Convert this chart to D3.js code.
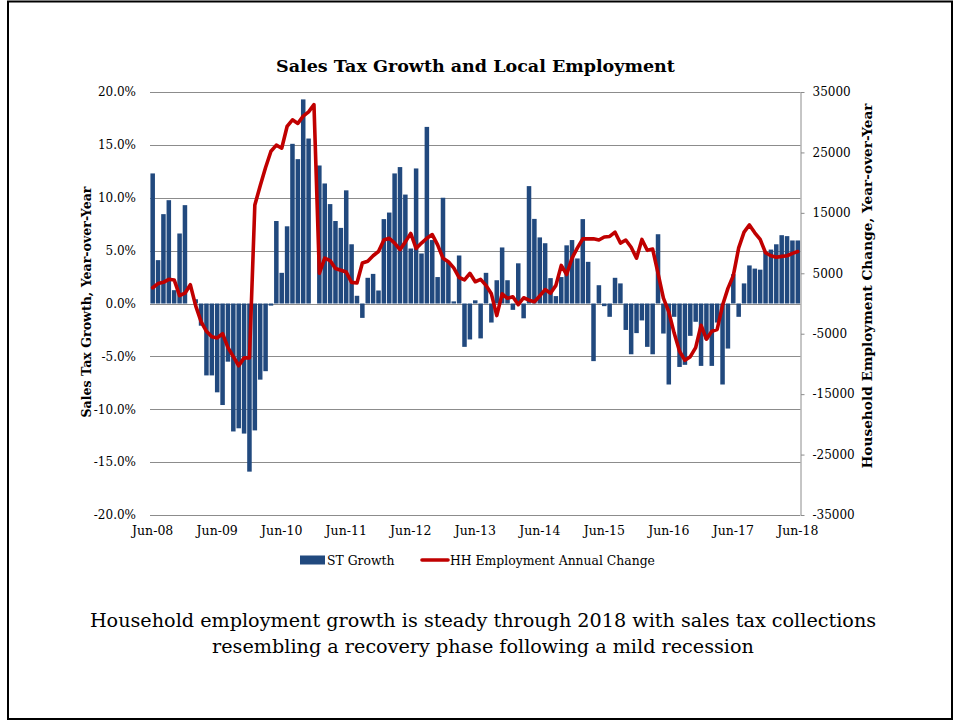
<!DOCTYPE html>
<html>
<head>
<meta charset="utf-8">
<script src="https://cdn.jsdelivr.net/npm/d3@7"></script>
<style>
  html, body { margin: 0; padding: 0; background: #fff; }
  svg { display: block; }
  text { font-family: "DejaVu Serif", "Liberation Serif", serif; fill: #000; }
</style>
</head>
<body>
<svg id="chart" width="960" height="721"></svg>
<script>
// ---- data ----
const monthNames = ["Jan","Feb","Mar","Apr","May","Jun","Jul","Aug","Sep","Oct","Nov","Dec"];
const categories = [];
for (let k = 0; k < 121; k++) {
  const m = (5 + k) % 12;
  const y = 8 + Math.floor((5 + k) / 12);
  categories.push(monthNames[m] + "-" + String(y).padStart(2, "0"));
}
const tickLabels = ["Jun-08","Jun-09","Jun-10","Jun-11","Jun-12","Jun-13","Jun-14","Jun-15","Jun-16","Jun-17","Jun-18"];

// ST Growth (percent, year-over-year)
const stGrowth = [
  12.3, 4.1, 8.45, 9.77, 1.26, 6.62, 9.3, 0.0, 0.4, -2.1,
  -6.8, -6.8, -8.4, -9.6, -5.5, -12.1, -11.8, -12.3, -15.9, -12.0,
  -7.2, -6.4, -0.2, 7.8, 2.9, 7.3, 15.1, 13.65, 19.3, 15.6,
  0.0, 13.05, 11.35, 9.4, 7.8, 7.15, 10.7, 5.6, 0.73, -1.36,
  2.43, 2.8, 1.23, 7.98, 8.6, 12.3, 12.9, 10.3, 5.2, 12.77,
  4.73, 16.7, 6.0, 2.5, 10.0, 3.94, 0.2, 4.54, -4.1, -3.4,
  0.3, -3.3, 2.9, -1.8, 2.2, 5.3, 2.2, -0.6, 3.8, -1.4,
  11.1, 8.0, 6.25, 5.7, 2.4, 0.7, 2.5, 5.5, 6.0, 4.26,
  7.98, 3.94, -5.45, 1.73, -0.25, -1.26, 2.43, 1.9, -2.5, -4.8,
  -2.8, -1.6, -4.1, -4.8, 6.55, -2.84, -7.66, -1.26, -6.0, -5.8,
  -3.06, -1.73, -5.9, -3.4, -5.9, -1.8, -7.66, -4.26, 2.77, -1.26,
  1.9, 3.6, 3.3, 3.2, 4.9, 5.1, 5.6, 6.46, 6.37, 5.96,
  5.96
];

// HH Employment Annual Change
const hhEmployment = [
  2600, 3300, 3500, 4000, 3900, 1300, 1700, 3100, -400, -3000,
  -4600, -5500, -5700, -5000, -7300, -8800, -10300, -9000, -9000, 16300,
  19500, 22500, 25200, 26200, 25700, 29300, 30400, 29800, 31000, 31700,
  32900, 5000, 7500, 7100, 5800, 5500, 5200, 3500, 3400, 6700,
  7000, 7900, 8600, 10500, 10800, 10000, 8900, 10200, 11600, 9100,
  10000, 10800, 11400, 9700, 7500, 6900, 5900, 4300, 3900, 5000,
  3600, 4000, 3000, 1600, -2000, 1600, 850, 1100, -200, 950,
  550, 300, 1250, 2300, 1700, 3000, 6300, 4800, 7500, 9200,
  10700, 10700, 10700, 10500, 11000, 11100, 11800, 10000, 10500, 9300,
  7500, 10600, 8800, 9000, 5000, 900, -1400, -4900, -7900, -9400,
  -8800, -7300, -3600, -5900, -4600, -4300, -300, 2500, 4600, 9200,
  11800, 13000, 11700, 10600, 8400, 7900, 7650, 7800, 7900, 8300,
  8600
];

const leftTicks = [-20, -15, -10, -5, 0, 5, 10, 15, 20];
const rightTicks = [-35000, -25000, -15000, -5000, 5000, 15000, 25000, 35000];

const titleText = "Sales Tax Growth and Local Employment";
const leftTitle = "Sales Tax Growth, Year-over-Year";
const rightTitle = "Household Employment Change, Year-over-Year";
const legendLabels = ["ST Growth", "HH Employment Annual Change"];
const captionLines = [
  "Household employment growth is steady through 2018 with sales tax collections",
  "resembling a recovery phase following a mild recession"
];

// ---- drawing ----
const svg = d3.select("#chart");
const plot = { left: 150, right: 800.5, top: 92, bottom: 515 };
const barColor = "#21497E";
const lineColor = "#C00000";
const gridColor = "#8C8C8C";
const hyphen = s => s.replace(/\u2212/g, "-");

// slide frame
svg.append("rect").attr("x", 8).attr("y", 1.5).attr("width", 944).attr("height", 717.5)
  .attr("fill", "none").attr("stroke", "#000").attr("stroke-width", 2);

const x = d3.scaleBand().domain(categories).range([plot.left, plot.right]).paddingInner(0.16).paddingOuter(0.08);
const xc = d3.scaleBand().domain(categories).range([plot.left, plot.right]);
const yL = d3.scaleLinear().domain([-20, 20]).range([plot.bottom, plot.top]);
const yR = d3.scaleLinear().domain([-35000, 35000]).range([plot.bottom, plot.top]);

// gridlines
svg.append("g").selectAll("line").data(leftTicks).join("line")
  .attr("x1", plot.left).attr("x2", plot.right)
  .attr("y1", d => Math.round(yL(d)) + 0.5).attr("y2", d => Math.round(yL(d)) + 0.5)
  .attr("stroke", gridColor).attr("stroke-width", 1);

// left axis labels
const leftAxis = d3.axisLeft(yL).tickValues(leftTicks).tickSize(0).tickPadding(14)
  .tickFormat(d => hyphen(d3.format(".1f")(d)) + "%");
const gL = svg.append("g").attr("transform", `translate(${plot.left},0)`).call(leftAxis);
gL.select(".domain").remove();
gL.selectAll("text").style("font-size", "12px").attr("font-family", "DejaVu Serif");

// bars
svg.append("g").selectAll("rect").data(stGrowth).join("rect")
  .attr("x", (d, i) => x(categories[i]))
  .attr("width", x.bandwidth())
  .attr("y", d => yL(Math.max(0, d)))
  .attr("height", d => Math.abs(yL(d) - yL(0)))
  .attr("fill", barColor);

// right axis
const rightAxis = d3.axisRight(yR).tickValues(rightTicks).tickSize(4).tickPadding(8)
  .tickFormat(d => hyphen(d3.format("d")(d)));
const gR = svg.append("g").attr("transform", `translate(${plot.right},0)`).call(rightAxis);
gR.select(".domain").attr("stroke", gridColor).attr("d", `M0.5,${plot.top}V${plot.bottom}`);
gR.selectAll(".tick line").attr("stroke", gridColor).attr("x1", 0.5);
gR.selectAll("text").style("font-size", "12px");

// x axis labels
const xAxis = d3.axisBottom(xc).tickValues(tickLabels).tickSize(0).tickPadding(11);
const gX = svg.append("g").attr("transform", `translate(0,${plot.bottom})`).call(xAxis);
gX.select(".domain").remove();
gX.selectAll("text").style("font-size", "12.5px");

// line
const line = d3.line()
  .x((d, i) => xc(categories[i]) + xc.bandwidth() / 2)
  .y(d => yR(d));
svg.append("path").datum(hhEmployment)
  .attr("d", line).attr("fill", "none")
  .attr("stroke", lineColor).attr("stroke-width", 3.6)
  .attr("stroke-linejoin", "round").attr("stroke-linecap", "round");

// title
svg.append("text").attr("x", 475.5).attr("y", 71.5).attr("text-anchor", "middle")
  .style("font-size", "17.5px").style("font-weight", "bold").text(titleText);

// axis titles
svg.append("text").attr("transform", "translate(91,302) rotate(-90)").attr("text-anchor", "middle")
  .style("font-size", "12.6px").style("font-weight", "bold").text(leftTitle);
svg.append("text").attr("transform", "translate(872,286) rotate(-90)").attr("text-anchor", "middle")
  .style("font-size", "13.7px").style("font-weight", "bold").text(rightTitle);

// legend
const lg = svg.append("g");
lg.append("rect").attr("x", 300).attr("y", 555.5).attr("width", 25).attr("height", 9).attr("fill", barColor);
lg.append("text").attr("x", 327).attr("y", 565).style("font-size", "12.4px").text(legendLabels[0]);
lg.append("line").attr("x1", 422).attr("x2", 448).attr("y1", 560).attr("y2", 560)
  .attr("stroke", lineColor).attr("stroke-width", 3.6).attr("stroke-linecap", "round");
lg.append("text").attr("x", 450).attr("y", 565).style("font-size", "12.4px").text(legendLabels[1]);

// caption
svg.append("g").selectAll("text").data(captionLines).join("text")
  .attr("x", 483).attr("y", (d, i) => 627 + i * 26).attr("text-anchor", "middle")
  .style("font-size", "19.2px").text(d => d);
</script>
</body>
</html>
